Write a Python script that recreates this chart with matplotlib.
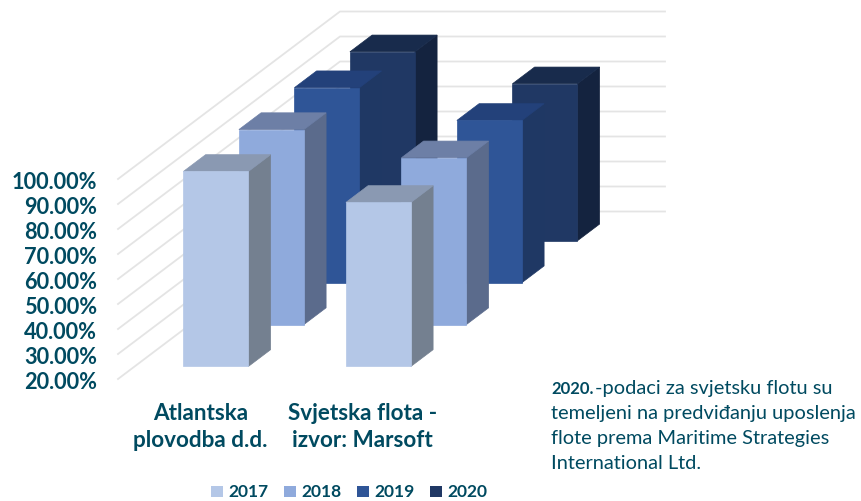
import matplotlib
matplotlib.use("Agg")
import matplotlib.pyplot as plt
from matplotlib.patches import Polygon, Rectangle


# ==========================
# Data
# ==========================

categories = ["Atlantska\nplovodba d.d.", "Svjetska flota -\nizvor: Marsoft"]
years = ["2017", "2018", "2019", "2020"]

values_2017 = [98.0, 85.6]
values_2018 = [98.0, 86.7]
values_2019 = [98.0, 84.9]
values_2020 = [95.6, 82.8]

y_ticks = [20, 30, 40, 50, 60, 70, 80, 90, 100]

note_lines = [
    "temeljeni na predviđanju uposlenja",
    "flote prema Maritime Strategies",
    "International Ltd.",
]


# ==========================
# Style
# ==========================

TEXT = "#004A60"
GRID = "#E4E4E4"

front_colors = ["#B4C7E7", "#8FAADC", "#2F5597", "#203864"]
side_colors = ["#748090", "#5B6B8C", "#1F3864", "#14233F"]
top_colors = ["#8A99B2", "#6D7FA6", "#23417A", "#182B4C"]

plt.rcParams["font.family"] = ["Lato", "DejaVu Sans"]


# ==========================
# Oblique projection (pixels)
# ==========================

ORIGIN_X = 118
ORIGIN_Y = 380
CAT_W = 162.5
DEPTH_X = 222
DEPTH_Y = 167.5
PX_PER_PCT = 2.5


def project(c, d, v):
    x = ORIGIN_X + CAT_W * c + DEPTH_X * d
    y = ORIGIN_Y - PX_PER_PCT * (v - y_ticks[0]) - DEPTH_Y * d
    return (x, y)


def draw_bar(ax, cat, slot, value, i):
    c0, c1 = cat + 0.3, cat + 0.7
    d0, d1 = (slot + 0.3) / 4, (slot + 0.7) / 4
    low = y_ticks[0]

    front = [project(c0, d0, low), project(c1, d0, low),
             project(c1, d0, value), project(c0, d0, value)]
    side = [project(c1, d0, low), project(c1, d1, low),
            project(c1, d1, value), project(c1, d0, value)]
    top = [project(c0, d0, value), project(c1, d0, value),
           project(c1, d1, value), project(c0, d1, value)]

    ax.add_patch(Polygon(side, closed=True, fc=side_colors[i], ec=side_colors[i], lw=0.5))
    ax.add_patch(Polygon(top, closed=True, fc=top_colors[i], ec=top_colors[i], lw=0.5))
    ax.add_patch(Polygon(front, closed=True, fc=front_colors[i], ec=front_colors[i], lw=0.5))


# ==========================
# Figure
# ==========================

fig = plt.figure(figsize=(8.62, 5.02), dpi=100)
ax = fig.add_axes([0, 0, 1, 1])
ax.set_xlim(0, 862)
ax.set_ylim(502, 0)
ax.axis("off")

# walls
for tick in y_ticks:
    pts = [project(0, 0, tick), project(0, 1, tick), project(2, 1, tick)]
    ax.plot([p[0] for p in pts], [p[1] for p in pts], color=GRID, lw=1.3, zorder=1)

    ax.text(97, project(0, 0, tick)[1] + 2.5, f"{tick:.2f}%", ha="right", va="center",
            color=TEXT, fontsize=15.7, fontweight="bold")

# bars, back row first
series = [values_2017, values_2018, values_2019, values_2020]

for i in reversed(range(len(series))):
    for j, value in enumerate(series[i]):
        draw_bar(ax, j, i, value, i)

# category labels
for j, label in enumerate(categories):
    ax.text(project(j + 0.5, 0, 20)[0] + 1, 427, label, ha="center", va="center",
            color=TEXT, fontsize=16.2, fontweight="bold", linespacing=1.4)

# legend
legend_x = [211, 284, 357, 430]
for x, year, color in zip(legend_x, years, front_colors):
    ax.add_patch(Rectangle((x, 487), 12, 11, fc=color, ec="none"))
    ax.text(x + 17, 492.5, year, ha="left", va="center",
            color=TEXT, fontsize=12.5, fontweight="bold")

# note
ax.text(551, 389, "2020.", ha="left", va="center", color=TEXT, fontsize=12, fontweight="bold")
ax.text(595, 389, "-podaci za svjetsku flotu su", ha="left", va="center", color=TEXT, fontsize=14.4)
for k, line in enumerate(note_lines):
    ax.text(551, 414 + 25 * k, line, ha="left", va="center", color=TEXT, fontsize=14.4)

fig.savefig("out.png", dpi=100)
